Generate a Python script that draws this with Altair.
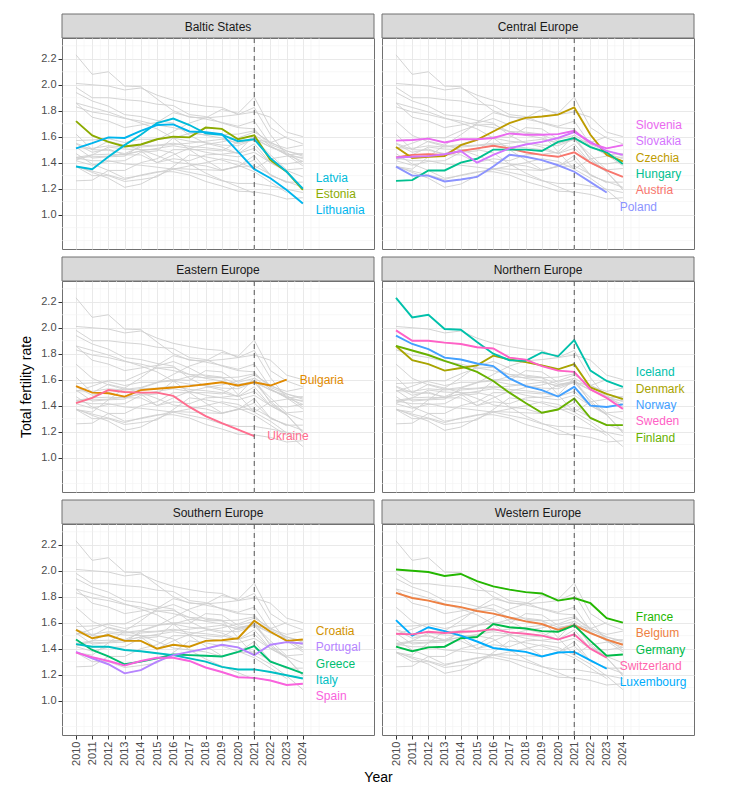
import math
import altair as alt
import pandas as pd

FONT = "Liberation Sans"

years = list(range(2010, 2025))
cutoff_year = 2021

# Total fertility rate, 2010..2024 (None = not available)
austria = [1.44, 1.46, 1.465, 1.46, 1.49, 1.51, 1.53, 1.51, 1.48, 1.46, 1.445, 1.48, 1.40, 1.34, 1.29]
belgium = [1.83, 1.79, 1.77, 1.74, 1.72, 1.69, 1.67, 1.64, 1.61, 1.59, 1.545, 1.58, 1.52, 1.47, 1.43]
bulgaria = [1.55, 1.50, 1.495, 1.47, 1.52, 1.53, 1.54, 1.55, 1.565, 1.58, 1.555, 1.58, 1.555, 1.60, None]
croatia = [1.545, 1.48, 1.505, 1.46, 1.46, 1.40, 1.43, 1.415, 1.46, 1.465, 1.48, 1.615, 1.53, 1.46, 1.47]
czechia = [1.52, 1.435, 1.445, 1.45, 1.535, 1.575, 1.64, 1.705, 1.745, 1.755, 1.77, 1.825, 1.615, 1.46, 1.41]
denmark = [1.86, 1.75, 1.72, 1.67, 1.69, 1.71, 1.785, 1.755, 1.735, 1.71, 1.68, 1.72, 1.54, 1.49, 1.45]
estonia = [1.72, 1.61, 1.56, 1.525, 1.54, 1.58, 1.60, 1.595, 1.67, 1.66, 1.58, 1.61, 1.42, 1.33, 1.19]
finland = [1.86, 1.825, 1.79, 1.745, 1.705, 1.66, 1.59, 1.50, 1.42, 1.345, 1.37, 1.455, 1.305, 1.25, 1.25]
france = [2.01, 2.0, 1.99, 1.96, 1.975, 1.92, 1.88, 1.855, 1.835, 1.825, 1.77, 1.79, 1.75, 1.635, 1.60]
germany = [1.415, 1.38, 1.41, 1.415, 1.48, 1.49, 1.59, 1.565, 1.555, 1.535, 1.53, 1.58, 1.46, 1.345, 1.355]
greece = [1.47, 1.39, 1.34, 1.28, 1.30, 1.325, 1.355, 1.35, 1.345, 1.34, 1.375, 1.42, 1.30, 1.255, 1.21]
hungary = [1.26, 1.265, 1.34, 1.34, 1.40, 1.43, 1.50, 1.50, 1.50, 1.49, 1.56, 1.59, 1.52, 1.48, 1.39]
iceland = [2.23, 2.08, 2.10, 1.99, 1.985, 1.89, 1.80, 1.75, 1.745, 1.81, 1.78, 1.905, 1.67, 1.59, 1.545]
italy = [1.435, 1.415, 1.415, 1.39, 1.38, 1.365, 1.35, 1.325, 1.30, 1.26, 1.24, 1.24, 1.22, 1.195, 1.17]
latvia = [1.37, 1.35, 1.445, 1.535, 1.615, 1.705, 1.74, 1.69, 1.625, 1.615, 1.565, 1.58, 1.435, 1.33, 1.20]
lithuania = [1.51, 1.55, 1.595, 1.59, 1.645, 1.69, 1.695, 1.64, 1.635, 1.62, 1.485, 1.35, 1.28, 1.19, 1.085]
luxembourg = [1.62, 1.50, 1.565, 1.535, 1.50, 1.455, 1.405, 1.39, 1.375, 1.34, 1.37, 1.375, 1.31, 1.245, None]
norway = [1.94, 1.875, 1.835, 1.77, 1.755, 1.725, 1.705, 1.61, 1.55, 1.52, 1.47, 1.545, 1.40, 1.39, 1.41]
poland = [1.37, 1.30, 1.30, 1.255, 1.27, 1.29, 1.37, 1.46, 1.445, 1.42, 1.38, 1.33, 1.25, 1.17, None]
portugal = [1.375, 1.325, 1.28, 1.21, 1.235, 1.30, 1.35, 1.375, 1.40, 1.43, 1.41, 1.35, 1.43, 1.45, 1.44]
slovakia = [1.44, 1.445, 1.45, 1.465, 1.49, 1.40, 1.46, 1.51, 1.54, 1.56, 1.59, 1.635, 1.56, 1.49, 1.46]
slovenia = [1.57, 1.575, 1.585, 1.555, 1.58, 1.58, 1.59, 1.625, 1.615, 1.615, 1.62, 1.645, 1.55, 1.51, 1.535]
spain = [1.37, 1.335, 1.305, 1.27, 1.305, 1.33, 1.33, 1.305, 1.255, 1.22, 1.18, 1.175, 1.155, 1.12, 1.13]
sweden = [1.98, 1.90, 1.90, 1.885, 1.875, 1.85, 1.84, 1.77, 1.755, 1.705, 1.67, 1.66, 1.525, 1.46, 1.375]
switzerland = [1.515, 1.51, 1.53, 1.52, 1.53, 1.535, 1.55, 1.525, 1.515, 1.50, 1.47, 1.51, 1.40, 1.33, None]
ukraine = [1.42, 1.46, 1.52, 1.505, 1.50, 1.50, 1.475, 1.39, 1.32, 1.265, 1.215, 1.165, None, None, None]

series = {
    "Austria": austria, "Belgium": belgium, "Bulgaria": bulgaria, "Croatia": croatia,
    "Czechia": czechia, "Denmark": denmark, "Estonia": estonia, "Finland": finland,
    "France": france, "Germany": germany, "Greece": greece, "Hungary": hungary,
    "Iceland": iceland, "Italy": italy, "Latvia": latvia, "Lithuania": lithuania,
    "Luxembourg": luxembourg, "Norway": norway, "Poland": poland, "Portugal": portugal,
    "Slovakia": slovakia, "Slovenia": slovenia, "Spain": spain, "Sweden": sweden,
    "Switzerland": switzerland, "Ukraine": ukraine,
}

regions = [
    ("Baltic States", ["Latvia", "Estonia", "Lithuania"]),
    ("Central Europe", ["Slovenia", "Slovakia", "Czechia", "Hungary", "Austria", "Poland"]),
    ("Eastern Europe", ["Bulgaria", "Ukraine"]),
    ("Northern Europe", ["Iceland", "Denmark", "Norway", "Sweden", "Finland"]),
    ("Southern Europe", ["Croatia", "Portugal", "Greece", "Italy", "Spain"]),
    ("Western Europe", ["France", "Belgium", "Germany", "Switzerland", "Luxembourg"]),
]

y_ticks = [1.0, 1.2, 1.4, 1.6, 1.8, 2.0, 2.2]
x_minor = [y + 0.5 for y in years] + [2025]
y_minor = [0.8, 0.9, 1.1, 1.3, 1.5, 1.7, 1.9, 2.1, 2.3]


# ---- ggplot-like hue palette (hcl, c=100, l=65) ----
def hcl_hex(h, c=100.0, l=65.0):
    hr = math.radians(h)
    u, v = c * math.cos(hr), c * math.sin(hr)
    xn, yn, zn = 95.047, 100.0, 108.883
    Y = yn * ((l + 16) / 116) ** 3 if l > 8 else yn * l / 903.3
    den = xn + 15 * yn + 3 * zn
    un, vn = 4 * xn / den, 9 * yn / den
    up, vp = u / (13 * l) + un, v / (13 * l) + vn
    X = Y * 9 * up / (4 * vp)
    Z = Y * (12 - 3 * up - 20 * vp) / (4 * vp)
    X, Y, Z = X / 100, Y / 100, Z / 100
    r = 3.240479 * X - 1.537150 * Y - 0.498535 * Z
    g = -0.969256 * X + 1.875992 * Y + 0.041556 * Z
    b = 0.055648 * X - 0.204043 * Y + 1.057311 * Z

    def gam(t):
        t = 12.92 * t if t <= 0.0031308 else 1.055 * t ** (1 / 2.4) - 0.055
        return max(0, min(255, round(t * 255)))

    return "#%02X%02X%02X" % (gam(r), gam(g), gam(b))


names = sorted(series)
n = len(names)
palette = [hcl_hex(15 + i * 360 / n) for i in range(n)]
color_scale = alt.Scale(domain=names, range=palette)

# ---- long data ----
region_of = {c: r for r, cs in regions for c in cs}
rows = []
for c, vals in series.items():
    for yr, v in zip(years, vals):
        if v is not None:
            rows.append({"country": c, "region": region_of[c], "year": yr, "tfr": v})
df = pd.DataFrame(rows)


# ---- end labels, pushed apart like ggrepel ----
def repel(vals, gap=0.126):
    idx = sorted(range(len(vals)), key=lambda i: -vals[i])
    pos = [vals[i] for i in idx]
    for _ in range(500):
        moved = False
        for k in range(len(pos) - 1):
            if pos[k] - pos[k + 1] < gap - 1e-9:
                m = (pos[k] + pos[k + 1]) / 2
                pos[k], pos[k + 1] = m + gap / 2, m - gap / 2
                moved = True
        if not moved:
            break
    out = [0.0] * len(vals)
    for k, i in enumerate(idx):
        out[i] = pos[k]
    return out


lab_rows = []
for r, cs in regions:
    last = [df[df.country == c].sort_values("year").iloc[-1] for c in cs]
    ly = repel([float(p.tfr) for p in last])
    for p, yv in zip(last, ly):
        lab_rows.append({"country": p.country, "region": r, "year": int(p.year), "ly": yv})
labels = pd.DataFrame(lab_rows)

minor_x_df = pd.DataFrame({"mx": x_minor})
minor_y_df = pd.DataFrame({"my": y_minor})
cut_df = pd.DataFrame({"year": [cutoff_year]})

W, H = 312, 211
GAP = 8
xs = alt.Scale(domain=[2009.136, 2028.39], nice=False, zero=False)
ys = alt.Scale(domain=[0.735, 2.36], nice=False, zero=False)
GRID = "#e6e6e6"
MINOR = "#f1f1f1"
BORDER = "#707070"


def make_panel(i, region, members):
    row, col = divmod(i, 2)
    bottom = row == 2
    left = col == 0
    xargs = dict(values=years, format="d", grid=True, gridColor=GRID, gridWidth=0.9,
                 labels=bottom, ticks=bottom, domain=False, labelAngle=270,
                 labelFontSize=11, labelColor="#4d4d4d", tickColor="#333333",
                 tickSize=4, labelPadding=2, labelFont=FONT)
    if i == 4:
        xaxis = alt.Axis(title="Year", titleX=W + GAP / 2, titleFontSize=14,
                         titleFontWeight="normal", titleColor="#000000", titlePadding=5,
                         titleFont=FONT, **xargs)
    else:
        xaxis = alt.Axis(title=None, **xargs)
    yargs = dict(values=y_ticks, format=".1f", grid=True, gridColor=GRID, gridWidth=0.9,
                 labels=left, ticks=left, domain=False, labelFontSize=11,
                 labelColor="#4d4d4d", tickColor="#333333", tickSize=4, labelPadding=2,
                 labelFont=FONT)
    if i == 2:
        yaxis = alt.Axis(title="Total fertility rate", titleFontSize=14, titleFontWeight="normal",
                         titleColor="#000000", titlePadding=7, titleFont=FONT, **yargs)
    else:
        yaxis = alt.Axis(title=None, **yargs)

    def X(f):
        return alt.X(f, type="quantitative", scale=xs, axis=xaxis)

    def Y(f):
        return alt.Y(f, type="quantitative", scale=ys, axis=yaxis)

    mx = alt.Chart(minor_x_df).mark_rule(color=MINOR, strokeWidth=0.6).encode(x=X("mx"))
    my = alt.Chart(minor_y_df).mark_rule(color=MINOR, strokeWidth=0.6).encode(y=Y("my"))
    grey = alt.Chart(df).mark_line(color="#cfcfcf", strokeWidth=0.9).encode(
        x=X("year"), y=Y("tfr"), detail="country:N")
    hl = alt.Chart(df).transform_filter(
        alt.FieldEqualPredicate(field="region", equal=region)
    ).mark_line(strokeWidth=1.9).encode(
        x=X("year"), y=Y("tfr"),
        color=alt.Color("country:N", scale=color_scale, legend=None))
    vline = alt.Chart(cut_df).mark_rule(color="#555555", strokeDash=[5, 4], strokeWidth=1).encode(
        x=X("year"))
    txt = alt.Chart(labels).transform_filter(
        alt.FieldEqualPredicate(field="region", equal=region)
    ).mark_text(align="left", baseline="middle", dx=13, fontSize=12, font=FONT).encode(
        x=X("year"), y=Y("ly"), text="country:N",
        color=alt.Color("country:N", scale=color_scale, legend=None))
    return alt.layer(mx, my, grey, hl, vline, txt).properties(
        width=W, height=H, view=alt.ViewBackground(stroke=BORDER, strokeWidth=1))


def make_strip(region, first):
    h = 24 if first else 32
    top = 0 if first else 8
    s = pd.DataFrame({"region": [region]})
    rect = alt.Chart(s).mark_rect(fill="#d9d9d9", stroke=BORDER, strokeWidth=1).encode(
        x=alt.value(0), x2=alt.value(W), y=alt.value(top), y2=alt.value(h))
    t = alt.Chart(s).mark_text(fontSize=12, color="#1a1a1a", font=FONT).encode(
        x=alt.value(W / 2), y=alt.value((top + h) / 2 + 0.5), text="region:N")
    return alt.layer(rect, t).properties(
        width=W, height=h, view=alt.ViewBackground(stroke="transparent"))


cells = []
for r in range(3):
    pair = regions[2 * r: 2 * r + 2]
    for name, _ in pair:
        cells.append(make_strip(name, r == 0))
    for k, (name, members) in enumerate(pair):
        cells.append(make_panel(2 * r + k, name, members))

chart = alt.concat(
    *cells, columns=2, spacing={"row": 0, "column": GAP}, bounds="flush",
).properties(
    padding={"left": 11, "top": 5, "right": 5, "bottom": 5}
).configure(font=FONT, background="white")

chart.save("out.html", embed_options={"renderer": "svg", "actions": False})
